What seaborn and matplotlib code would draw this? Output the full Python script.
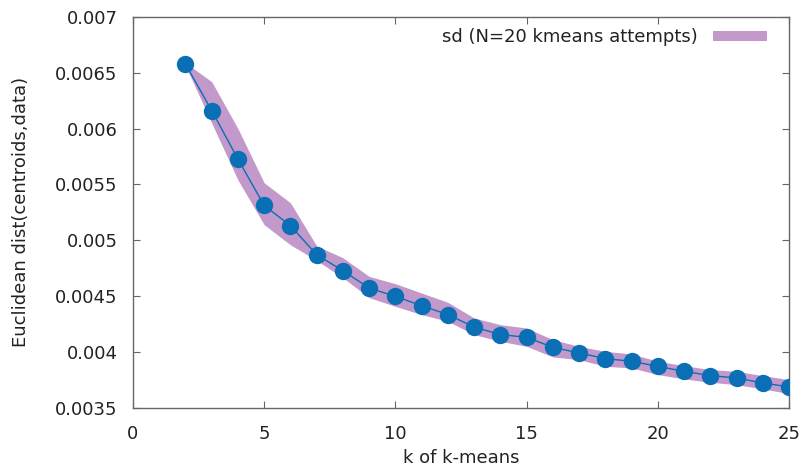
import numpy as np
import pandas as pd
import seaborn as sns
from matplotlib import pyplot as plt
from matplotlib.patches import Patch

# k values and mean distance
k_values = list(range(2, 26))
mean_dist = [0.006577, 0.006162, 0.005727, 0.005312, 0.005131, 0.004871,
             0.004728, 0.004573, 0.004498, 0.004415, 0.004335, 0.004224,
             0.004156, 0.004132, 0.004042, 0.003992, 0.003941, 0.003917,
             0.003872, 0.003827, 0.003789, 0.003768, 0.003723, 0.003688]
# upper / lower edges of the sd band
band_upper = [0.006590, 0.006420, 0.006000, 0.005515, 0.005336, 0.004950,
              0.004844, 0.004677, 0.004612, 0.004528, 0.004445, 0.004305,
              0.004245, 0.004215, 0.004111, 0.004051, 0.004006, 0.003983,
              0.003917, 0.003878, 0.003843, 0.003827, 0.003789, 0.003753]
band_lower = [0.006565, 0.006050, 0.005540, 0.005140, 0.004960, 0.004820,
              0.004665, 0.004487, 0.004409, 0.004335, 0.004275, 0.004156,
              0.004096, 0.004051, 0.003956, 0.003932, 0.003872, 0.003858,
              0.003798, 0.003759, 0.003729, 0.003708, 0.003670, 0.003628]

x_ticks = [0, 5, 10, 15, 20, 25]
y_ticks = [0.0035, 0.004, 0.0045, 0.005, 0.0055, 0.006, 0.0065, 0.007]
y_tick_labels = ['0.0035', '0.004', '0.0045', '0.005', '0.0055', '0.006', '0.0065', '0.007']

line_color = '#0a6fb5'
band_color = '#c398cb'


def main():
    sns.set_style('ticks')
    plt.rcParams['font.family'] = ['DejaVu Sans']
    plt.rcParams['font.size'] = 13

    df = pd.DataFrame({'k': k_values, 'dist': mean_dist})

    fig = plt.figure(figsize=(8.06, 4.71), dpi=100)
    ax = fig.add_axes([0.165, 0.134, 0.814, 0.830])

    ax.fill_between(k_values, band_lower, band_upper, color=band_color,
                    linewidth=0, zorder=1)
    sns.lineplot(data=df, x='k', y='dist', ax=ax, color=line_color,
                 linewidth=1, marker='o', markersize=12.5, markeredgewidth=0,
                 zorder=3)

    ax.set_xlim(0, 25)
    ax.set_ylim(0.0035, 0.007)
    ax.set_xticks(x_ticks)
    ax.set_xticklabels([str(t) for t in x_ticks])
    ax.set_yticks(y_ticks)
    ax.set_yticklabels(y_tick_labels)
    ax.tick_params(direction='in', top=True, right=True, length=5,
                   color='#666666', labelsize=13, labelcolor='#222222')
    ax.tick_params(axis='x', pad=12)
    ax.tick_params(axis='y', pad=11)
    for side in ax.spines.values():
        side.set_color('#666666')
        side.set_linewidth(1)

    ax.set_xlabel('k of k-means', fontsize=13, labelpad=5, color='#222222')
    ax.set_ylabel('Euclidean dist(centroids,data)', fontsize=13, labelpad=18,
                  color='#222222')

    handle = Patch(facecolor=band_color, edgecolor='none')
    ax.legend([handle], ['sd (N=20 kmeans attempts)'], loc='upper right',
              bbox_to_anchor=(0.977, 0.99), borderaxespad=0,
              frameon=False, markerfirst=False, fontsize=13,
              handlelength=3.0, handleheight=0.45, handletextpad=0.8,
              labelcolor='#222222')

    fig.savefig('out.png', dpi=100)


if __name__ == '__main__':
    main()
